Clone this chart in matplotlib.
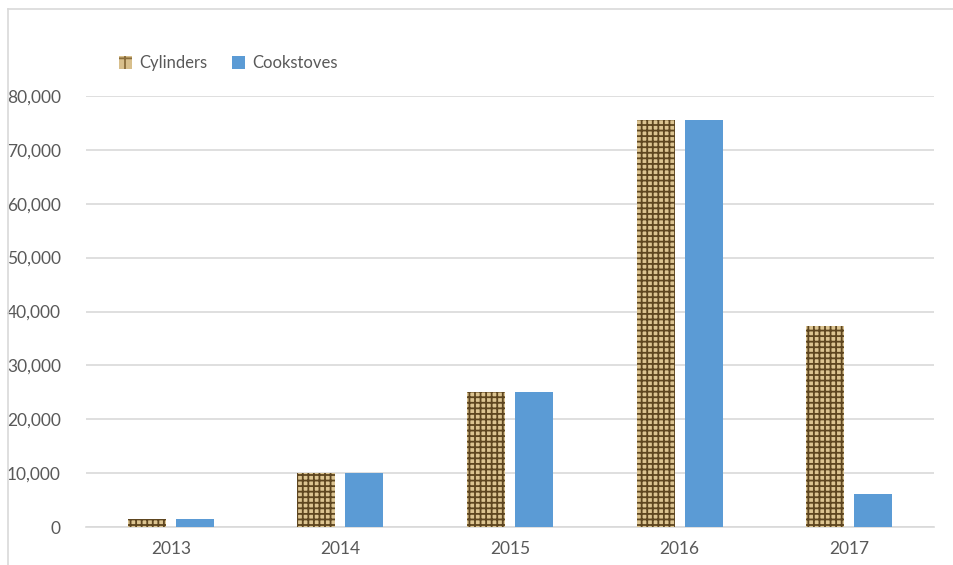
import numpy as np
import matplotlib
matplotlib.use('Agg')
import matplotlib.pyplot as plt
from matplotlib.lines import Line2D
from matplotlib.patches import Patch

years = ['2013', '2014', '2015', '2016', '2017']
cylinders = [1500, 10000, 25000, 75600, 37300]
cookstoves = [1500, 10000, 25000, 75600, 6100]

plt.rcParams['font.family'] = ['Lato', 'DejaVu Sans']
plt.rcParams['hatch.linewidth'] = 1.3

fig = plt.figure(figsize=(9.54, 5.65), dpi=100)
ax = fig.add_axes([86/954, 1-527/565, 848/954, 431/565])

x = np.arange(len(years))
w = 0.224
off = 0.1415
ax.bar(x - off, cylinders, w, color='#dcc491', edgecolor='#5e4620', hatch='+++',
       linewidth=0, zorder=3)
ax.bar(x + off, cookstoves, w, color='#5b9bd5', linewidth=0, zorder=3)

ax.set_xlim(-0.5, len(years) - 0.5)
ax.set_ylim(0, 80000)
ax.set_yticks(np.arange(0, 80001, 10000))
ax.set_yticklabels([f'{v:,}' for v in range(0, 80001, 10000)])
ax.set_xticks(x)
ax.set_xticklabels(years)
ax.grid(axis='y', color='#d9d9d9', linewidth=1.2, zorder=0)
for s in ['top', 'right', 'left']:
    ax.spines[s].set_visible(False)
ax.spines['bottom'].set_color('#d9d9d9')
ax.spines['bottom'].set_linewidth(1.2)
ax.tick_params(axis='both', length=0, labelsize=12.5, labelcolor='#595959')
ax.tick_params(axis='y', pad=18)
ax.tick_params(axis='x', pad=10)

handles = [Patch(facecolor='#d8bf8c', edgecolor='#8a6d3b', hatch='+', linewidth=0),
           Patch(facecolor='#5b9bd5', linewidth=0)]
fig.legend(handles, ['Cylinders', 'Cookstoves'], loc='center left',
           bbox_to_anchor=(104/954, 1-63/565), ncol=2, frameon=False,
           fontsize=12, labelcolor='#595959', handlelength=0.8, handleheight=0.8,
           handletextpad=0.4, columnspacing=1.5)

# chart border
fig.add_artist(Line2D([8/954, 8/954], [0, 1-9/565], color='#d9d9d9', linewidth=1.2,
                      transform=fig.transFigure))
fig.add_artist(Line2D([8/954, 1], [1-9/565, 1-9/565], color='#d9d9d9', linewidth=1.2,
                      transform=fig.transFigure))

fig.savefig('out.png', dpi=100)
